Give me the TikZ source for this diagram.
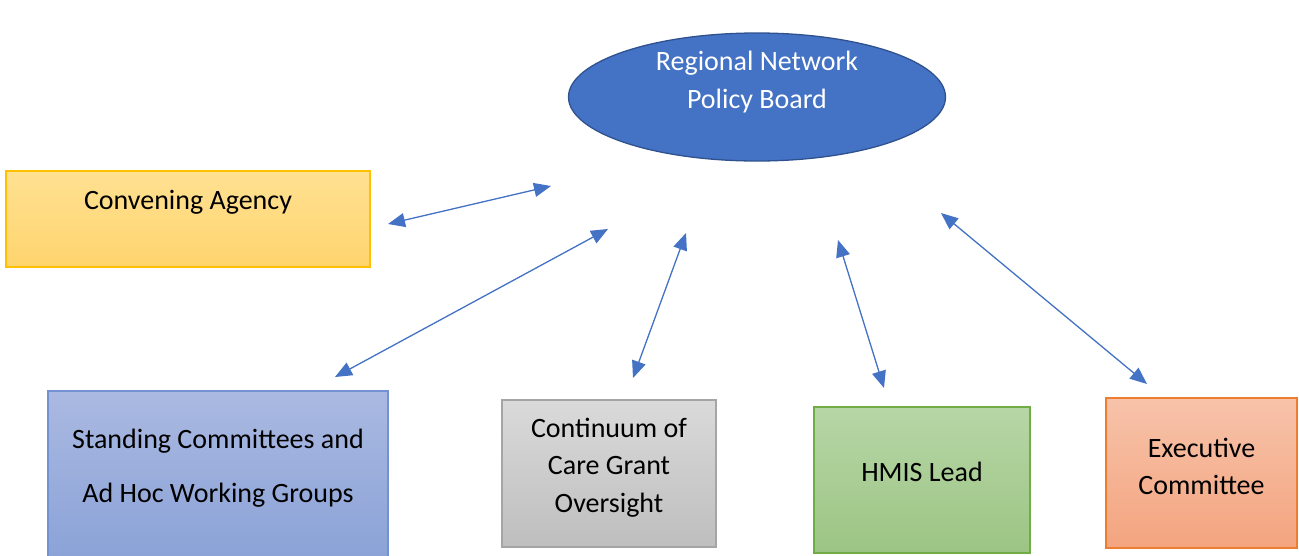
\documentclass[tikz,border=0pt]{standalone}
\usepackage{fontspec}
\setmainfont{Carlito}
\usetikzlibrary{arrows.meta,shapes.geometric}

\definecolor{bleu}{HTML}{4472C4}
\definecolor{bleufonce}{HTML}{2F528F}

\begin{document}
\begin{tikzpicture}[x=1pt, y=-1pt, >={Triangle[length=17pt,width=14pt]},
  boite/.style={rectangle, draw, line width=1.3pt, inner sep=0pt},
  texte/.style={font=\fontsize{28}{37.5}\selectfont, align=center},
  lien/.style={<->, draw=bleu, fill=bleu, line width=1.3pt}]

\useasboundingbox (0,0) rectangle (1299,555);
\clip (0,0) rectangle (1299,555);

% Le conseil au centre
\node[ellipse, draw=bleufonce, fill=bleu, line width=1.3pt, minimum width=377, minimum height=128] (RN) at (757,97) {};
\node[texte, white] (tRN) at (757,82) {Regional Network\\Policy Board};

% Les boîtes autour
\node[boite, draw={rgb,255:red,255;green,192;blue,0}, top color={rgb,255:red,255;green,225;blue,146}, bottom color={rgb,255:red,255;green,212;blue,110}, minimum width=364, minimum height=96] (CA) at (188,219) {};
\node[texte] (tCA) at (188,202) {Convening Agency};

\node[boite, draw={rgb,255:red,114;green,146;blue,210}, top color={rgb,255:red,170;green,185;blue,225}, bottom color={rgb,255:red,134;green,159;blue,214}, minimum width=340, minimum height=194] (SC) at (218,488) {};
\node[texte] (tSC) at (218,468) {Standing Committees and\\[17pt]Ad Hoc Working Groups};

\node[boite, draw={rgb,255:red,165;green,165;blue,165}, top color={rgb,255:red,218;green,218;blue,218}, bottom color={rgb,255:red,190;green,190;blue,190}, minimum width=214, minimum height=147] (CC) at (609,473.5) {};
\node[texte] (tCC) at (609,467.5) {Continuum of\\Care Grant\\Oversight};

\node[boite, draw={rgb,255:red,112;green,173;blue,71}, top color={rgb,255:red,183;green,214;blue,166}, bottom color={rgb,255:red,156;green,197;blue,132}, minimum width=216, minimum height=146] (HL) at (922,480) {};
\node[texte] (tHL) at (922,472) {HMIS Lead};

\node[boite, draw={rgb,255:red,237;green,125;blue,49}, top color={rgb,255:red,247;green,195;blue,170}, bottom color={rgb,255:red,244;green,164;blue,127}, minimum width=191, minimum height=150] (EC) at (1201.5,473) {};
\node[texte] (tEC) at (1201.5,466.5) {Executive\\Committee};

% Les extrémités des flèches
\coordinate (a1) at (388,224); \coordinate (b1) at (551,186);
\coordinate (a2) at (335,377); \coordinate (b2) at (608,229);
\coordinate (a3) at (633,378); \coordinate (b3) at (686,233);
\coordinate (a4) at (884,388); \coordinate (b4) at (838,240);
\coordinate (a5) at (1147,384); \coordinate (b5) at (941,213);

% Les flèches doubles
\foreach \i in {1,...,5}
\draw[lien] (a\i) -- (b\i);

\end{tikzpicture}
\end{document}
